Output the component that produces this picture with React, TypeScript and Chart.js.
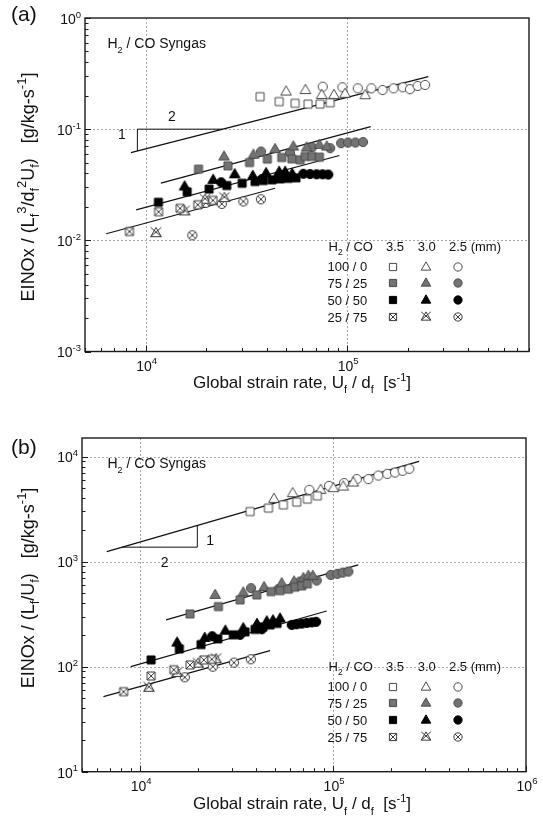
import { useEffect, useRef } from 'react';
import { Chart, registerables } from 'chart.js';
Chart.register(...registerables);

type Pt = [number, number];

// ---------- Panel (a): EINOx / (Lf^3/df^2 Uf) ----------
const A_100_35: Pt[] = [[37000, 0.196], [46000, 0.177], [55200, 0.171], [64000, 0.168], [73400, 0.168], [82400, 0.173]];
const A_100_30: Pt[] = [[49800, 0.218], [62100, 0.225], [74800, 0.203], [86100, 0.203], [97700, 0.208], [123000, 0.202]];
const A_100_25: Pt[] = [[75700, 0.241], [94800, 0.238], [113000, 0.233], [132000, 0.233], [150000, 0.225], [170000, 0.233], [189000, 0.238], [205000, 0.229], [224000, 0.245], [244000, 0.25]];
const A_75_35: Pt[] = [[18300, 0.0437], [25600, 0.0468], [32800, 0.0501], [40200, 0.0538], [47400, 0.0556], [53200, 0.0541], [58500, 0.053], [61900, 0.0568], [66900, 0.0568], [72900, 0.056]];
const A_75_30: Pt[] = [[24500, 0.0567], [34300, 0.0588], [43900, 0.0661], [54100, 0.0698], [63000, 0.0684], [72900, 0.0723], [79300, 0.0698]];
const A_75_25: Pt[] = [[37400, 0.0629], [52100, 0.0612], [67000, 0.0687], [82400, 0.0675], [93400, 0.0748], [101000, 0.0758], [110000, 0.0758], [120000, 0.0766]];
const A_50_35: Pt[] = [[11570, 0.022], [16070, 0.0273], [20650, 0.0289], [25290, 0.0311], [30130, 0.0326], [34930, 0.0338], [38430, 0.0345], [42480, 0.035], [46490, 0.0357], [50910, 0.0361], [55780, 0.0365]];
const A_50_30: Pt[] = [[15610, 0.0305], [21630, 0.035], [27680, 0.0393], [34040, 0.038], [39630, 0.0402], [46000, 0.0413], [49270, 0.0413], [53370, 0.0397]];
const A_50_25: Pt[] = [[23700, 0.0333], [37860, 0.0357], [47540, 0.0373], [60670, 0.0397], [65500, 0.0395], [70560, 0.0393], [75590, 0.0393], [80690, 0.0391]];
const A_25_35: Pt[] = [[8310, 0.012], [11600, 0.0181], [14830, 0.0194], [18150, 0.0209], [21560, 0.0229]];
const A_25_30: Pt[] = [[11250, 0.0116], [15610, 0.0182], [19720, 0.0232], [24600, 0.024]];
const A_25_25: Pt[] = [[17060, 0.0111], [19950, 0.0218], [23880, 0.0213], [30550, 0.0224], [37330, 0.0234]];
const A_FIT_100: Pt[] = [[8450, 0.0616], [253000, 0.297]];
const A_FIT_75: Pt[] = [[11900, 0.0327], [131000, 0.1055]];
const A_FIT_50: Pt[] = [[8970, 0.0188], [91600, 0.058]];
const A_FIT_25: Pt[] = [[6370, 0.01146], [43970, 0.0294]];
const A_SLOPE_X = 9100;
const A_SLOPE_Y = 0.1;
const A_X_EXP = [4, 5];
const A_Y_EXP = [0, -1, -2, -3];

// ---------- Panel (b): EINOx / (Lf/Uf) ----------
const B_100_35: Pt[] = [[37150, 2993], [46270, 3228], [55270, 3467], [64830, 3680], [73570, 3930], [82900, 4225]];
const B_100_30: Pt[] = [[49400, 3956], [61780, 4478], [86290, 4818], [100400, 5000], [113000, 5179], [127300, 5652]];
const B_100_25: Pt[] = [[75340, 4818], [95300, 5260], [114000, 5580], [132700, 6095], [152400, 6095], [171700, 6592], [191100, 6842], [209400, 7040], [229500, 7310], [248400, 7640]];
const B_75_35: Pt[] = [[18150, 317.5], [25460, 372.7], [32980, 431.4], [40250, 481.5], [47760, 517.8], [53110, 529.4], [58660, 546], [63500, 570.5], [68800, 587], [73600, 613.5]];
const B_75_30: Pt[] = [[24490, 481.5], [34270, 507.3], [43910, 570.5], [54220, 622.6], [62770, 645.2], [70200, 695.2], [74500, 731.2], [78500, 731.2]];
const B_75_25: Pt[] = [[37580, 558.5], [52070, 546], [67410, 645.2], [82330, 659.5], [97240, 746.6], [105200, 763.8], [112200, 785.7], [120000, 803]];
const B_50_35: Pt[] = [[11400, 115.9], [15980, 147.5], [20700, 162.2], [25270, 183.8], [30430, 200.6], [34990, 214], [39420, 226], [43370, 238.7], [47170, 249.5], [51280, 257.8]];
const B_50_30: Pt[] = [[15550, 169.4], [21630, 187.7], [27660, 219.8], [34270, 232.2], [40350, 255.2], [45350, 269.4], [48870, 275.6], [53110, 286.6]];
const B_50_25: Pt[] = [[23650, 194.8], [32980, 200.6], [42720, 226.9], [61090, 249.5], [64840, 253.5], [68840, 256.9], [73100, 260.8], [77600, 263.8], [81700, 266.7]];
const B_25_35: Pt[] = [[8212, 57.8], [11400, 81.5], [14950, 93.5], [18150, 103.7], [21380, 115.9], [23530, 117.5]];
const B_25_30: Pt[] = [[11110, 62.9], [15550, 87.1], [19980, 106.7], [24780, 117.5]];
const B_25_25: Pt[] = [[17050, 79.2], [23810, 100], [30690, 109.2], [37500, 117.5]];
const B_FIT_100: Pt[] = [[6723, 1245], [279000, 8996]];
const B_FIT_75: Pt[] = [[13630, 278.6], [135200, 931]];
const B_FIT_50: Pt[] = [[8950, 100], [92700, 338.8]];
const B_FIT_25: Pt[] = [[6460, 51.8], [47170, 141.9]];
const B_SLOPE_X = 19800;
const B_SLOPE_Y = 1371;
const B_X_EXP = [4, 5, 6];
const B_Y_EXP = [1, 2, 3, 4];

// ---------- legend ----------
const COMPOSITIONS = ['100 / 0', '75 / 25', '50 / 50', '25 / 75'];
const SIZES = ['3.5', '3.0', '2.5 (mm)'];
const KINDS = ['open', 'gray', 'black', 'cross'];
const SHAPES = ['sq', 'tri', 'cir'];

const FONT = "'Liberation Sans', Arial, Helvetica, sans-serif";
type Part = [string, number];

const STYLE: any = {
  open: { fill: '#ffffff', stroke: '#4a4a4a' },
  gray: { fill: '#737373', stroke: '#4c4c4c' },
  black: { fill: '#000000', stroke: '#000000' },
  cross: { fill: '#ffffff', stroke: '#3a3a3a' },
};

function makeMarker(shape: string, kind: string, k = 1) {
  const N = 18;
  const c = document.createElement('canvas');
  c.width = N; c.height = N;
  const g = c.getContext('2d') as CanvasRenderingContext2D;
  const st = STYLE[kind];
  g.fillStyle = st.fill; g.strokeStyle = st.stroke; g.lineWidth = 1;
  const cx = N / 2, cy = N / 2;
  const cross = kind === 'cross';
  g.beginPath();
  if (shape === 'sq') {
    const s = 8 * k, h = s / 2;
    g.rect(cx - h, cy - h, s, s); g.fill(); g.stroke();
    if (cross) {
      g.beginPath();
      g.moveTo(cx - h, cy - h); g.lineTo(cx + h, cy + h);
      g.moveTo(cx + h, cy - h); g.lineTo(cx - h, cy + h);
      g.stroke();
    }
  } else if (shape === 'tri') {
    const w = 10.6 * k, h = 9.2 * k;
    const top = cy - h * 0.62, base = cy + h * 0.38;
    g.moveTo(cx, top); g.lineTo(cx + w / 2, base); g.lineTo(cx - w / 2, base); g.closePath();
    g.fill(); g.stroke();
    if (cross) {
      g.beginPath();
      g.moveTo(cx - w / 2, top); g.lineTo(cx + w / 2, base);
      g.moveTo(cx + w / 2, top); g.lineTo(cx - w / 2, base);
      g.stroke();
    }
  } else {
    const r = 4.6 * k;
    g.arc(cx, cy, r, 0, Math.PI * 2); g.fill(); g.stroke();
    if (cross) {
      const a = r * 0.7;
      g.beginPath();
      g.moveTo(cx - a, cy - a); g.lineTo(cx + a, cy + a);
      g.moveTo(cx + a, cy - a); g.lineTo(cx - a, cy + a);
      g.stroke();
    }
  }
  return c;
}

function setFont(ctx: CanvasRenderingContext2D, size: number) { ctx.font = `${size}px ${FONT}`; }

function drawRich(ctx: CanvasRenderingContext2D, parts: Part[], x: number, y: number, size: number, align: string, sc = 0.7, subD = 0.28, supU = 0.45) {
  let w = 0;
  for (const [t, m] of parts) { setFont(ctx, m ? size * sc : size); w += ctx.measureText(t).width; }
  let cx = align === 'left' ? x : align === 'center' ? x - w / 2 : x - w;
  ctx.textAlign = 'left'; ctx.textBaseline = 'alphabetic';
  for (const [t, m] of parts) {
    const fs = m ? size * sc : size;
    setFont(ctx, fs);
    const dy = m === 1 ? size * subD : m === 2 ? -size * supU : 0;
    ctx.fillText(t, cx, y + dy);
    cx += ctx.measureText(t).width;
  }
}

const L = Math.log10;
function fitY(f: Pt[], x: number) {
  const [[x0, y0], [x1, y1]] = f;
  return Math.pow(10, L(y0) + (L(y1) - L(y0)) * (L(x) - L(x0)) / (L(x1) - L(x0)));
}
function fitX(f: Pt[], y: number) {
  const [[x0, y0], [x1, y1]] = f;
  return Math.pow(10, L(x0) + (L(x1) - L(x0)) * (L(y) - L(y0)) / (L(y1) - L(y0)));
}

function panelPlugin(p: any) {
  return {
    id: 'panel' + p.name,
    beforeDatasetsDraw(chart: any) {
      const ctx = chart.ctx as CanvasRenderingContext2D;
      const { left, right, top, bottom } = chart.chartArea;
      const xs = chart.scales.x, ys = chart.scales.y;
      ctx.save();
      ctx.strokeStyle = '#a8a8a8'; ctx.lineWidth = 1; ctx.setLineDash([2, 2]);
      for (const e of p.xGrid) {
        const px = Math.round(xs.getPixelForValue(Math.pow(10, e))) + 0.5;
        ctx.beginPath(); ctx.moveTo(px, top); ctx.lineTo(px, bottom); ctx.stroke();
      }
      for (const e of p.yGrid) {
        const py = Math.round(ys.getPixelForValue(Math.pow(10, e))) + 0.5;
        ctx.beginPath(); ctx.moveTo(left, py); ctx.lineTo(right, py); ctx.stroke();
      }
      ctx.restore();
    },
    afterDatasetsDraw(chart: any) {
      const ctx = chart.ctx as CanvasRenderingContext2D;
      const { left, right, top, bottom } = chart.chartArea;
      const xs = chart.scales.x, ys = chart.scales.y;
      const oy = p.oy;
      ctx.save();
      // frame
      ctx.strokeStyle = '#1a1a1a'; ctx.lineWidth = 1.4;
      ctx.strokeRect(left, top, right - left, bottom - top);
      // ticks
      ctx.lineWidth = 1; ctx.strokeStyle = '#1a1a1a';
      const xmin = xs.min, xmax = xs.max, ymin = ys.min, ymax = ys.max;
      for (let e = Math.floor(L(xmin)); e <= Math.ceil(L(xmax)); e++) {
        for (let m = 1; m <= 9; m++) {
          const v = m * Math.pow(10, e);
          if (v < xmin * 0.999 || v > xmax * 1.001) continue;
          const px = Math.round(xs.getPixelForValue(v)) + 0.5;
          const len = m === 1 ? 6 : 3.5;
          ctx.beginPath(); ctx.moveTo(px, bottom); ctx.lineTo(px, bottom - len); ctx.stroke();
        }
      }
      for (let e = Math.floor(L(ymin)); e <= Math.ceil(L(ymax)); e++) {
        for (let m = 1; m <= 9; m++) {
          const v = m * Math.pow(10, e);
          if (v < ymin * 0.999 || v > ymax * 1.001) continue;
          const py = Math.round(ys.getPixelForValue(v)) + 0.5;
          const len = m === 1 ? 6 : 3.5;
          ctx.beginPath(); ctx.moveTo(left, py); ctx.lineTo(left + len, py); ctx.stroke();
        }
      }
      ctx.fillStyle = '#111';
      // tick labels
      for (const e of p.xExp) {
        const px = xs.getPixelForValue(Math.pow(10, e));
        drawRich(ctx, [['10', 0], [String(e), 2]], px + 1, bottom + 19, 14, 'center', 0.68, 0, 0.45);
      }
      for (const e of p.yExp) {
        const py = ys.getPixelForValue(Math.pow(10, e));
        drawRich(ctx, [['10', 0], [String(e), 2]], left - 4, py + 5.8, 14, 'right', 0.68, 0, 0.45);
      }
      // panel label
      setFont(ctx, 21); ctx.textAlign = 'left'; ctx.textBaseline = 'alphabetic';
      ctx.fillText(p.label, 11, p.labelY - oy);
      // syngas label
      drawRich(ctx, [['H', 0], ['2', 1], [' / CO Syngas', 0]], 107.5, p.syngasY - oy, 14, 'left', 0.65, 0.3);
      // x title
      drawRich(ctx, [['Global strain rate, U', 0], ['f', 1], [' / d', 0], ['f', 1], ['  [s', 0], ['-1', 2], [']', 0]], 302, p.xTitleY - oy, 17, 'center', 0.65, 0.3, 0.42);
      // y title
      ctx.save();
      ctx.translate(34, p.yTitleY - oy);
      ctx.rotate(-Math.PI / 2);
      drawRich(ctx, p.yTitle, 0, 0, 18, 'center', 0.72, 0.3, 0.42);
      ctx.restore();
      // slope triangle labels
      const pv = p.slopeLabels(xs, ys);
      setFont(ctx, 14); ctx.textAlign = 'center'; ctx.textBaseline = 'middle';
      ctx.fillText('1', pv.one[0], pv.one[1]);
      ctx.fillText('2', pv.two[0], pv.two[1]);
      // legend
      const hy = top + 228.3;
      drawRich(ctx, [['H', 0], ['2', 1], [' / CO', 0]], 328.5, hy + 4.7, 13, 'left', 0.65, 0.3);
      setFont(ctx, 13); ctx.textBaseline = 'alphabetic';
      ctx.textAlign = 'center';
      ctx.fillText(SIZES[0], 395, hy + 4.7);
      ctx.fillText(SIZES[1], 426.7, hy + 4.7);
      ctx.textAlign = 'left';
      ctx.fillText(SIZES[2], 449, hy + 4.7);
      const symX = [392.7, 425.7, 458.3];
      COMPOSITIONS.forEach((c, i) => {
        const ry = top + 248.5 + 16.9 * i;
        setFont(ctx, 13); ctx.textAlign = 'right'; ctx.fillStyle = '#111';
        ctx.fillText(c, 367.3, ry + 4.7);
        SHAPES.forEach((s, j) => {
          const mk = p.legendMarkers[KINDS[i] + s];
          ctx.drawImage(mk, Math.round(symX[j] - mk.width / 2), Math.round(ry - mk.height / 2));
        });
      });
      ctx.restore();
    },
  };
}

function buildConfig(p: any) {
  const datasets: any[] = [];
  p.series.forEach((row: Pt[][], ci: number) => row.forEach((pts: Pt[], si: number) => {
    datasets.push({
      label: COMPOSITIONS[ci] + ' ' + SIZES[si],
      data: pts.map(([x, y]) => ({ x, y })),
      pointStyle: p.markers[KINDS[ci] + SHAPES[si]],
      pointRadius: 5,
      showLine: false,
    });
  }));
  p.fits.forEach((f: Pt[]) => datasets.push({
    data: f.map(([x, y]) => ({ x, y })),
    showLine: true, borderColor: '#111', borderWidth: 1.2, pointRadius: 0, fill: false,
  }));
  datasets.push({
    data: p.slope.map(([x, y]: Pt) => ({ x, y })),
    showLine: true, borderColor: '#111', borderWidth: 1, pointRadius: 0, fill: false,
  });
  return {
    type: 'scatter',
    data: { datasets },
    options: {
      responsive: false,
      maintainAspectRatio: false,
      animation: false,
      devicePixelRatio: 1,
      events: [],
      layout: { padding: p.padding },
      plugins: { legend: { display: false }, tooltip: { enabled: false } },
      scales: {
        x: { type: 'logarithmic', min: p.xMin, max: p.xMax, display: false },
        y: { type: 'logarithmic', min: p.yMin, max: p.yMax, display: false },
      },
    },
    plugins: [panelPlugin(p)],
  };
}

export default function App() {
  const refA = useRef<HTMLCanvasElement>(null);
  const refB = useRef<HTMLCanvasElement>(null);
  useEffect(() => {
    const markers: any = {};
    const legendMarkers: any = {};
    KINDS.forEach((k) => SHAPES.forEach((s) => {
      markers[k + s] = makeMarker(s, k, 1);
      legendMarkers[k + s] = makeMarker(s, k, 0.9);
    }));

    const aXv = A_SLOPE_X, aXh = fitX(A_FIT_100, A_SLOPE_Y), aYl = fitY(A_FIT_100, A_SLOPE_X);
    const panelA = {
      name: 'a', oy: 0, label: '(a)', labelY: 21, syngasY: 48.3, xTitleY: 388, yTitleY: 187,
      yTitle: [['EINOx / (L', 0], ['f', 1], ['3', 2], ['/d', 0], ['f', 1], ['2', 2], ['U', 0], ['f', 1], [')   [g/kg-s', 0], ['-1', 2], [']', 0]],
      xMin: 5000, xMax: 800000, yMin: 0.001, yMax: 1,
      padding: { left: 85, right: 14, top: 18, bottom: 66.5 },
      xGrid: [4, 5], yGrid: [-1, -2], xExp: A_X_EXP, yExp: A_Y_EXP,
      series: [[A_100_35, A_100_30, A_100_25], [A_75_35, A_75_30, A_75_25], [A_50_35, A_50_30, A_50_25], [A_25_35, A_25_30, A_25_25]],
      fits: [A_FIT_100, A_FIT_75, A_FIT_50, A_FIT_25],
      slope: [[aXv, aYl], [aXv, A_SLOPE_Y], [aXh, A_SLOPE_Y]],
      slopeLabels: (xs: any, ys: any) => {
        const vx = xs.getPixelForValue(aXv), hy = ys.getPixelForValue(A_SLOPE_Y), ly = ys.getPixelForValue(aYl);
        const hx = xs.getPixelForValue(aXh);
        return { one: [vx - 15.6, (hy + ly) / 2 - 5], two: [(vx + hx) / 2 - 8, hy - 12.5] };
      },
      markers, legendMarkers,
    };
    const bXv = B_SLOPE_X, bXh = fitX(B_FIT_100, B_SLOPE_Y), bYl = fitY(B_FIT_100, B_SLOPE_X);
    const panelB = {
      name: 'b', oy: 418, label: '(b)', labelY: 453.5, syngasY: 468.3, xTitleY: 809.4, yTitleY: 588,
      yTitle: [['EINOx / (L', 0], ['f', 1], ['/U', 0], ['f', 1], [')   [g/kg-s', 0], ['-1', 2], [']', 0]],
      xMin: 5000, xMax: 1000000, yMin: 10, yMax: 15000,
      padding: { left: 82, right: 17, top: 20, bottom: 63.3 },
      xGrid: [4, 5], yGrid: [2, 3, 4], xExp: B_X_EXP, yExp: B_Y_EXP,
      series: [[B_100_35, B_100_30, B_100_25], [B_75_35, B_75_30, B_75_25], [B_50_35, B_50_30, B_50_25], [B_25_35, B_25_30, B_25_25]],
      fits: [B_FIT_100, B_FIT_75, B_FIT_50, B_FIT_25],
      slope: [[bXh, B_SLOPE_Y], [bXv, B_SLOPE_Y], [bXv, bYl]],
      slopeLabels: (xs: any, ys: any) => {
        const vx = xs.getPixelForValue(bXv), hy = ys.getPixelForValue(B_SLOPE_Y), ly = ys.getPixelForValue(bYl);
        const hx = xs.getPixelForValue(bXh);
        return { one: [vx + 12.7, (hy + ly) / 2 + 5], two: [(vx + hx) / 2 + 5, hy + 16] };
      },
      markers, legendMarkers,
    };
    const ca = new Chart(refA.current as HTMLCanvasElement, buildConfig(panelA) as any);
    const cb = new Chart(refB.current as HTMLCanvasElement, buildConfig(panelB) as any);
    return () => { ca.destroy(); cb.destroy(); };
  }, []);
  return (
    <div style={{ position: 'absolute', left: 0, top: 0, width: 543, height: 835, background: '#fff', overflow: 'hidden' }}>
      <canvas ref={refA} width={543} height={418} style={{ position: 'absolute', left: 0, top: 0, width: 543, height: 418 }} />
      <canvas ref={refB} width={543} height={417} style={{ position: 'absolute', left: 0, top: 418, width: 543, height: 417 }} />
    </div>
  );
}
